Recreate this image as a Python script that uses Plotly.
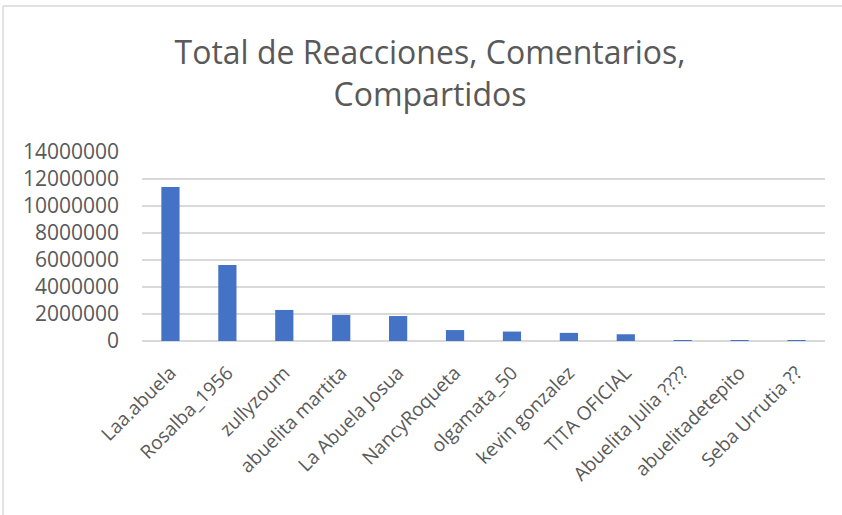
import plotly.graph_objects as go

categories = ["Laa.abuela", "Rosalba_1956", "zullyzoum", "abuelita martita", "La Abuela Josua",
              "NancyRoqueta", "olgamata_50", "kevin gonzalez", "TITA OFICIAL",
              "Abuelita Julia ????", "abuelitadetepito", "Seba Urrutia ??"]
values = [11400000, 5630000, 2300000, 1930000, 1850000, 810000, 700000, 600000, 500000,
          30000, 20000, 20000]
y_ticks = [0, 2000000, 4000000, 6000000, 8000000, 10000000, 12000000, 14000000]

W, H = 842, 515
L, R, T, B = 142, 17, 152, 174

fig = go.Figure(go.Bar(x=categories, y=values, marker_color="#4472C4",
                       marker_line_width=0))

pw = W - L - R
ph = H - T - B
# chart frame (left and top border)
fx = (3 - L) / pw
fy = (H - B - 6) / ph
fig.add_shape(type="line", xref="paper", yref="paper",
              x0=fx, x1=fx, y0=-(H - (H - B)) / ph, y1=fy,
              line=dict(color="#d9d9d9", width=1.5))
fig.add_shape(type="line", xref="paper", yref="paper",
              x0=fx, x1=(W - L) / pw, y0=fy, y1=fy,
              line=dict(color="#d9d9d9", width=1.5))

fig.update_layout(
    width=W, height=H,
    margin=dict(l=L, r=R, t=T, b=B),
    paper_bgcolor="white", plot_bgcolor="white",
    font=dict(family="Open Sans", color="#595959"),
    title=dict(text="Total de Reacciones, Comentarios,<br>Compartidos",
               x=430 / W, xref="container", xanchor="center",
               yref="container", y=1 - 64 / H, yanchor="middle",
               font=dict(size=32, color="#595959", family="Open Sans")),
    bargap=0.68,
    showlegend=False,
)
fig.update_xaxes(tickangle=-45, tickfont=dict(size=19, color="#595959"),
                 showgrid=False, showline=False, ticks="", ticklabelstandoff=16)
fig.update_yaxes(range=[0, 14000000], tickvals=y_ticks, ticktext=[str(v) for v in y_ticks],
                 tickfont=dict(size=21, color="#595959"),
                 showgrid=True, gridcolor="#d9d9d9", gridwidth=1.5,
                 zeroline=True, zerolinecolor="#d9d9d9", zerolinewidth=1.5,
                 showline=False, ticks="", ticklabelstandoff=22)

fig.write_html("out.html", config={"displayModeBar": False},
               post_script="document.body.style.margin='0px';")
